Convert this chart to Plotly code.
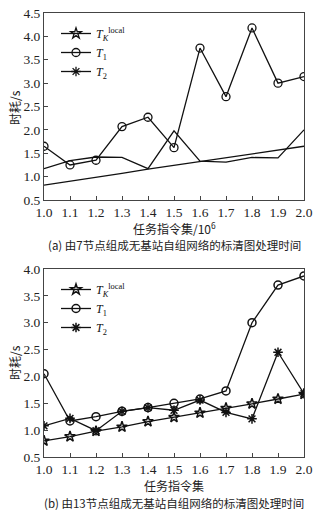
import plotly.graph_objects as go

x_vals = [1.0, 1.1, 1.2, 1.3, 1.4, 1.5, 1.6, 1.7, 1.8, 1.9, 2.0]
x_ticks = ["1.0", "1.1", "1.2", "1.3", "1.4", "1.5", "1.6", "1.7", "1.8", "1.9", "2.0"]

# Panel (a): 7 nodes
a_tlocal = [0.82, 0.90, 0.99, 1.07, 1.16, 1.24, 1.33, 1.41, 1.49, 1.57, 1.65]
a_t1 = [1.65, 1.25, 1.35, 2.07, 2.27, 1.62, 3.75, 2.71, 4.18, 3.00, 3.14]
a_t2 = [1.17, 1.34, 1.42, 1.41, 1.17, 1.98, 1.33, 1.31, 1.41, 1.40, 2.00]

# Panel (b): 13 nodes
b_tlocal = [0.80, 0.88, 0.98, 1.06, 1.16, 1.24, 1.32, 1.41, 1.49, 1.58, 1.67]
b_t1 = [2.05, 1.17, 1.25, 1.35, 1.42, 1.50, 1.58, 1.73, 3.00, 3.70, 3.87]
b_t2 = [1.08, 1.22, 0.99, 1.35, 1.42, 1.37, 1.56, 1.33, 1.21, 2.45, 1.68]

names = ["<i>T</i><sub><i>K</i></sub><sup>local</sup>", "<i>T</i><sub>1</sub>", "<i>T</i><sub>2</sub>"]
symbols = ["star-open", "circle-open", "asterisk-open"]

W, H = 322, 514
SERIF = "Liberation Serif, Times New Roman, serif"
CJK = "Noto Sans CJK SC, Liberation Serif, serif"
LC = "#111"

fig = go.Figure()

# Panel (a) lines: T1 with markers, others plain
fig.add_trace(go.Scatter(x=x_vals, y=a_tlocal, mode="lines", line=dict(color=LC, width=1.3),
                         showlegend=False, xaxis="x", yaxis="y"))
fig.add_trace(go.Scatter(x=x_vals, y=a_t2, mode="lines", line=dict(color=LC, width=1.3),
                         showlegend=False, xaxis="x", yaxis="y"))
fig.add_trace(go.Scatter(x=x_vals, y=a_t1, mode="lines+markers", line=dict(color=LC, width=1.3),
                         marker=dict(symbol="circle-open", size=8, color=LC, line=dict(width=1.3)),
                         showlegend=False, xaxis="x", yaxis="y"))
# legend-only entries for panel (a)
for nm, sym in zip(names, symbols):
    fig.add_trace(go.Scatter(x=[None], y=[None], mode="lines+markers", name=nm,
                             line=dict(color=LC, width=1.3),
                             marker=dict(symbol=sym, size=8, color=LC, line=dict(width=1.3, color=LC)),
                             legend="legend", xaxis="x", yaxis="y"))

# Panel (b)
for nm, sym, ys in zip(names, symbols, [b_tlocal, b_t1, b_t2]):
    fig.add_trace(go.Scatter(x=x_vals, y=ys, mode="lines+markers", name=nm,
                             line=dict(color=LC, width=1.3),
                             marker=dict(symbol=sym, size=8, color=LC, line=dict(width=1.5, color=LC)),
                             legend="legend2", xaxis="x2", yaxis="y2"))

def px_x(p):
    return p / W

def px_y(p):
    return 1 - p / H

axis_common = dict(showgrid=False, zeroline=False, showline=True, linecolor="#444", linewidth=1,
                   mirror=True, ticks="inside", ticklen=4, tickcolor="#444", automargin=False,
                   tickfont=dict(family=SERIF, size=13.5, color="#222"))

fig.update_layout(
    width=W, height=H, margin=dict(l=0, r=0, t=0, b=0, pad=0),
    paper_bgcolor="white", plot_bgcolor="white",
    xaxis=dict(domain=[px_x(44), px_x(304)], range=[1.0, 2.0], tickvals=x_vals, ticktext=x_ticks,
               anchor="y", **axis_common),
    yaxis=dict(domain=[px_y(200), px_y(13)], range=[0.5, 4.5], dtick=0.5, tickformat=".1f",
               anchor="x", **axis_common),
    xaxis2=dict(domain=[px_x(44), px_x(304)], range=[1.0, 2.0], tickvals=x_vals, ticktext=x_ticks,
                anchor="y2", **axis_common),
    yaxis2=dict(domain=[px_y(457), px_y(269)], range=[0.5, 4.0], dtick=0.5, tickformat=".1f",
                anchor="x2", **axis_common),
    legend=dict(x=px_x(56), y=px_y(19), xanchor="left", yanchor="top", bgcolor="rgba(0,0,0,0)",
                font=dict(family=SERIF, size=12, color="#111"), tracegroupgap=0, itemwidth=30),
    legend2=dict(x=px_x(56), y=px_y(275), xanchor="left", yanchor="top", bgcolor="rgba(0,0,0,0)",
                 font=dict(family=SERIF, size=12, color="#111"), tracegroupgap=0, itemwidth=30),
)

ann = [
    dict(text="时耗/s", x=px_x(14), y=px_y(108), textangle=-90, size=12),
    dict(text="任务指令集/10<sup>6</sup>", x=px_x(174), y=px_y(228), size=12),
    dict(text="(a) 由7节点组成无基站自组网络的标清图处理时间", x=px_x(174), y=px_y(245), size=11.5),
    dict(text="时耗/s", x=px_x(14), y=px_y(363), textangle=-90, size=12),
    dict(text="任务指令集", x=px_x(174), y=px_y(485), size=12),
    dict(text="(b) 由13节点组成无基站自组网络的标清图处理时间", x=px_x(174), y=px_y(503), size=11.5),
]
for a in ann:
    sz = a.pop("size")
    fig.add_annotation(xref="paper", yref="paper", showarrow=False, xanchor="center", yanchor="middle",
                       font=dict(family=CJK, size=sz, color="#222"), **a)

fig.write_html("out.html", config={"displayModeBar": False},
               post_script="document.body.style.margin='0';document.body.style.overflow='hidden';")
